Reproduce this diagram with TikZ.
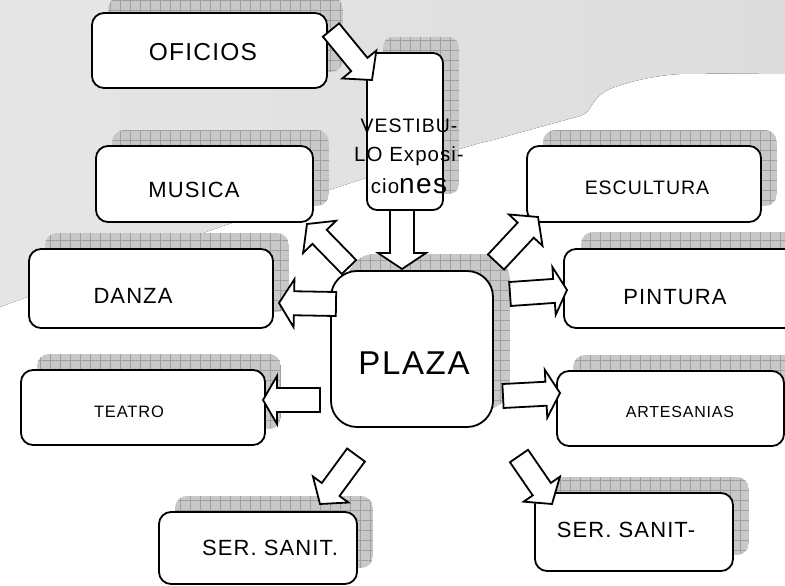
\documentclass[tikz,border=0pt]{standalone}
\usepackage{fontspec}
\setmainfont{Liberation Sans}[LetterSpace=5]
\usetikzlibrary{calc}

\newcommand\fs[1]{\fontsize{#1}{#1}\selectfont}

\definecolor{bgleft}{RGB}{230,230,230}
\definecolor{bgright}{RGB}{220,220,220}
\definecolor{shcol}{RGB}{200,200,200}
\definecolor{gridcol}{RGB}{160,160,160}

\tikzset{
  box/.style={draw=black, line width=1.8pt, fill=white, rectangle, inner sep=0pt},
  shfill/.style={fill=shcol},
  shgrid/.style={draw=gridcol, line width=0.5pt},
  blockarrow/.style={draw=black, line width=1.8pt, fill=white, line join=miter},
  lbl/.style={anchor=base, inner sep=0pt, text=black},
  bgfill/.style={left color=bgleft, right color=bgright, draw=none},
}

% shadowed rounded box: name, x1, y1, x2, y2, radius, offset
\newcommand\shbox[7]{%
  \begin{scope}
    \clip[rounded corners=#6pt] (#2+#7,#3-#7) rectangle (#4+#7,#5-#7);
    \fill[shfill] (#2+#7,#3-#7) rectangle (#4+#7,#5-#7);
    \draw[shgrid] (#2,#3-40) grid[step=10pt] (#4+#7,#5);
  \end{scope}
  \node[box, rounded corners=#6pt, minimum width={#4-#2}, minimum height={#5-#3}] (#1) at ({(#2+#4)/2},{(#3+#5)/2}) {};
}

% block arrow: tail x, tail y, tip x, tip y, shaft half-width, head half-width, head length
\newcommand\blockarr[7]{%
  \pgfmathsetmacro\bdx{#3-#1}%
  \pgfmathsetmacro\bdy{#4-#2}%
  \pgfmathsetmacro\blen{veclen(\bdx,\bdy)}%
  \pgfmathsetmacro\bux{\bdx/\blen}%
  \pgfmathsetmacro\buy{\bdy/\blen}%
  \pgfmathsetmacro\bbx{#1+(\blen-#7)*\bux}%
  \pgfmathsetmacro\bby{#2+(\blen-#7)*\buy}%
  \draw[blockarrow] ({#1-#5*\buy},{#2+#5*\bux}) -- ({\bbx-#5*\buy},{\bby+#5*\bux})
    -- ({\bbx-#6*\buy},{\bby+#6*\bux}) -- (#3,#4) -- ({\bbx+#6*\buy},{\bby-#6*\bux})
    -- ({\bbx+#5*\buy},{\bby-#5*\bux}) -- ({#1+#5*\buy},{#2-#5*\bux}) -- cycle;
}

\begin{document}
\begin{tikzpicture}[x=1pt, y=1pt, yscale=-1]
\useasboundingbox (0,0) rectangle (785,586);
\clip (0,0) rectangle (785,586);

% background grey region
\fill[bgfill] (0,0) -- (785,0) -- (785,73) -- (680,74)
  .. controls (650,76) and (630,82) .. (615,87)
  .. controls (600,92) and (595,100) .. (590,108)
  .. controls (587,113) and (585,114) .. (580,116)
  -- (493,140) -- (480,143)
  .. controls (300,195) and (100,270) .. (0,307) -- cycle;

% boxes with shadows
\shbox{oficios}{92}{13}{327}{88}{12}{16}
\shbox{vestibulo}{367}{53}{443}{210}{10}{16}
\shbox{musica}{96}{146}{313}{222}{12}{16}
\shbox{danza}{29}{249}{273}{328}{12}{16}
\shbox{teatro}{21}{370}{265}{445}{12}{16}
\shbox{plaza}{331}{271}{493}{427}{26}{17}
\shbox{escultura}{527}{146}{761}{222}{12}{16}
\shbox{pintura}{564}{249}{810}{328}{12}{17}
\shbox{artesanias}{557}{371}{784}{446}{12}{16}
\shbox{sanit1}{159}{512}{357}{584}{12}{16}
\shbox{sanit2}{535}{493}{733}{571}{12}{16}

% block arrows
\blockarr{331}{30}{372}{80}{10.5}{22}{20}
\blockarr{402}{210}{402}{269}{12}{24}{16}
\blockarr{349}{267}{307}{224}{10}{23}{18}
\blockarr{496}{262}{538}{217}{11}{23}{18}
\blockarr{336}{304}{279}{303}{12}{24}{15}
\blockarr{510}{294}{567}{290}{12}{24}{13}
\blockarr{320}{400}{263}{400}{12}{24}{14}
\blockarr{503}{396}{560}{393}{12}{24}{14}
\blockarr{356}{455}{320}{504}{11}{22}{18}
\blockarr{519}{456}{552}{504}{11}{22}{18}

% texts
\node[lbl, font=\fs{24.5}] (t-oficios) at (203,61) {OFICIOS};
\node[lbl, font=\fs{19.5}] (t-ves1) at (409,132) {VESTIBU-};
\node[lbl, font=\fs{20.5}] (t-ves2) at (409,161) {LO Exposi-};
\node[lbl] (t-ves3) at (409,193) {{\fs{20.5}cio}{\fs{28}nes}};
\node[lbl, font=\fs{22}] (t-musica) at (194,197.5) {MUSICA};
\node[lbl, font=\fs{22}] (t-danza) at (133,303) {DANZA};
\node[lbl, font=\fs{16.5}] (t-teatro) at (129,417) {TEATRO};
\node[lbl, font=\fs{33}] (t-plaza) at (414,374) {PLAZA};
\node[lbl, font=\fs{19.5}] (t-escultura) at (647,194) {ESCULTURA};
\node[lbl, font=\fs{22}] (t-pintura) at (675,304) {PINTURA};
\node[lbl, font=\fs{16}] (t-artesanias) at (680,417) {ARTESANIAS};
\node[lbl, font=\fs{22}] (t-sanit1) at (270,555.5) {SER. SANIT.};
\node[lbl, font=\fs{22}] (t-sanit2) at (626,537) {SER. SANIT-};
\end{tikzpicture}
\end{document}
